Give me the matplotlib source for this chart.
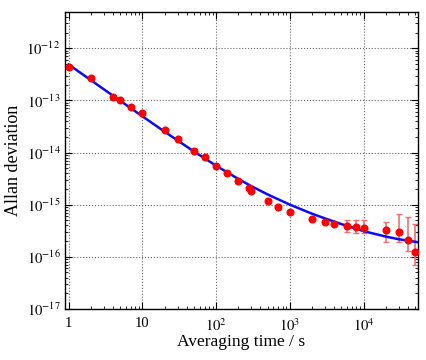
import matplotlib
matplotlib.use("Agg")
import matplotlib.pyplot as plt
from matplotlib.ticker import LogLocator, NullFormatter, FixedLocator, FixedFormatter

plt.rcParams['font.family'] = ['Liberation Serif', 'DejaVu Serif']
plt.rcParams['mathtext.fontset'] = 'stix'

# measured Allan deviation
tau = [1, 2, 4, 5, 7, 10, 20, 30, 50, 70, 100, 140, 200, 280, 300,
       500, 700, 1000, 2000, 3000, 4000, 6000, 8000, 1e4, 2e4, 3e4, 4e4, 5e4]
adev = [4.3e-13, 2.75e-13, 1.14e-13, 1.0e-13, 7.4e-14, 5.7e-14, 2.7e-14, 1.8e-14,
        1.07e-14, 8.1e-15, 5.5e-15, 4.1e-15, 2.8e-15, 2.05e-15, 1.85e-15,
        1.2e-15, 9.1e-16, 7.2e-16, 5.3e-16, 4.7e-16, 4.2e-16, 3.9e-16, 3.8e-16,
        3.6e-16, 3.25e-16, 3.0e-16, 2.11e-16, 1.24e-16]
err_lo = [0] * 21 + [0.9e-16, 0.9e-16, 0.8e-16, 1.35e-16, 1.05e-16, 0.82e-16, 0.55e-16]
err_hi = [0] * 21 + [1.1e-16, 1.25e-16, 1.45e-16, 1.45e-16, 3.5e-16, 3.8e-16, 3.1e-16]

# fitted curve
fit_tau = [1, 2, 3, 5, 10, 20, 30, 50, 100, 200, 300, 500, 1000, 2000, 3000,
           5000, 1e4, 2e4, 3e4, 5.5e4]
fit_adev = [4.9e-13, 2.46e-13, 1.64e-13, 9.87e-14, 4.97e-14, 2.52e-14, 1.71e-14,
            1.05e-14, 5.6e-15, 3.11e-15, 2.27e-15, 1.57e-15, 1.0e-15, 6.7e-16,
            5.44e-16, 4.24e-16, 3.1e-16, 2.44e-16, 2.17e-16, 1.9e-16]

ytick_vals = [1e-17, 1e-16, 1e-15, 1e-14, 1e-13, 1e-12]
ytick_labels = [r'$10^{-17}$', r'$10^{-16}$', r'$10^{-15}$', r'$10^{-14}$',
                r'$10^{-13}$', r'$10^{-12}$']
xtick_vals = [1, 10, 100, 1000, 1e4]
xtick_labels = ['1', '10', r'$10^2$', r'$10^3$', r'$10^4$']

fig = plt.figure(figsize=(4.26, 3.6), dpi=100)
ax = fig.add_axes([0.153, 0.142, 0.828, 0.825])

ax.errorbar(tau, adev, yerr=[err_lo, err_hi], fmt='none', ecolor='#f07070',
            elinewidth=1.2, capsize=2.5, capthick=1, zorder=2)
ax.plot(fit_tau, fit_adev, color='#0a0af5', lw=1.8, zorder=3)
ax.plot(tau, adev, 'o', color='#ff0000', ms=5.8, mec='none', zorder=4)

ax.set_xscale('log')
ax.set_yscale('log')
ax.set_xlim(0.9, 5.45e4)
ax.set_ylim(1e-17, 5e-12)

ax.xaxis.set_major_locator(FixedLocator(xtick_vals))
ax.xaxis.set_major_formatter(FixedFormatter(xtick_labels))
ax.xaxis.set_minor_locator(LogLocator(base=10, subs=range(2, 10), numticks=20))
ax.xaxis.set_minor_formatter(NullFormatter())
ax.yaxis.set_major_locator(FixedLocator(ytick_vals))
ax.yaxis.set_major_formatter(FixedFormatter(ytick_labels))
ax.yaxis.set_minor_locator(LogLocator(base=10, subs=range(2, 10), numticks=20))
ax.yaxis.set_minor_formatter(NullFormatter())

ax.tick_params(which='both', direction='in', top=True, right=True, labelsize=10.5)
ax.tick_params(which='major', length=5, width=0.8)
ax.tick_params(which='minor', length=2.5, width=0.6)
ax.tick_params(axis='x', pad=6)

ax.grid(True, which='major', linestyle=':', color='#666666', linewidth=0.8)
for s in ax.spines.values():
    s.set_linewidth(1.0)

ax.set_xlabel('Averaging time / s', fontsize=12.5, labelpad=0)
ax.set_ylabel('Allan deviation', fontsize=13, labelpad=3)

fig.savefig('out.png', dpi=100)
